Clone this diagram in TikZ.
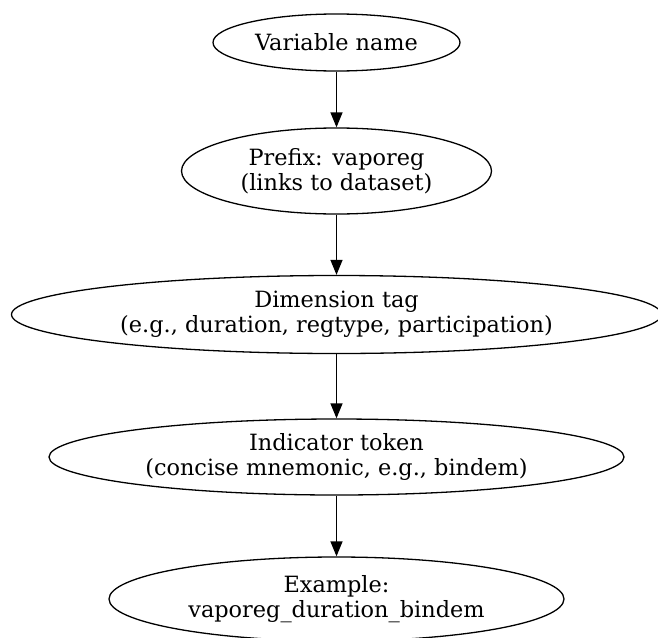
\documentclass[tikz,border=0pt]{standalone}
\usepackage{fontspec}
\setmainfont{DejaVu Serif}
\usetikzlibrary{shapes.geometric,arrows.meta,positioning}
\begin{document}
\begin{tikzpicture}[x=1pt, y=-1pt, node distance=142.5pt,
    stage/.style={ellipse, draw, line width=1.3pt, inner sep=0pt, align=center,
        font=\fontsize{22.4}{25}\selectfont},
    link/.style={-{Triangle[length=15pt,width=12pt]}, line width=1.3pt}]
    \useasboundingbox (0,0) rectangle (658,637);

    \node[stage, minimum width=247pt, minimum height=57pt] (varname) at (336.5,42.5) {Variable name};
    \node[stage, minimum width=310pt, minimum height=86pt, below of=varname, node distance=128.5pt] (prefix) {Prefix: vaporeg\\(links to dataset)};
    \node[stage, minimum width=650pt, minimum height=78pt, below of=prefix, node distance=143.5pt] (dimtag) {Dimension tag\\(e.g., duration, regtype, participation)};
    \node[stage, minimum width=575pt, minimum height=76pt, below of=dimtag] (indtoken) {Indicator token\\(concise mnemonic, e.g., bindem)};
    \node[stage, minimum width=455pt, minimum height=84pt, below of=indtoken, node distance=142pt] (example) {Example:\\vaporeg\_duration\_bindem};

    \draw[link] (varname) -- (prefix);
    \draw[link] (prefix) -- (dimtag);
    \draw[link] (dimtag) -- (indtoken);
    \draw[link] (indtoken) -- (example);
\end{tikzpicture}
\end{document}
